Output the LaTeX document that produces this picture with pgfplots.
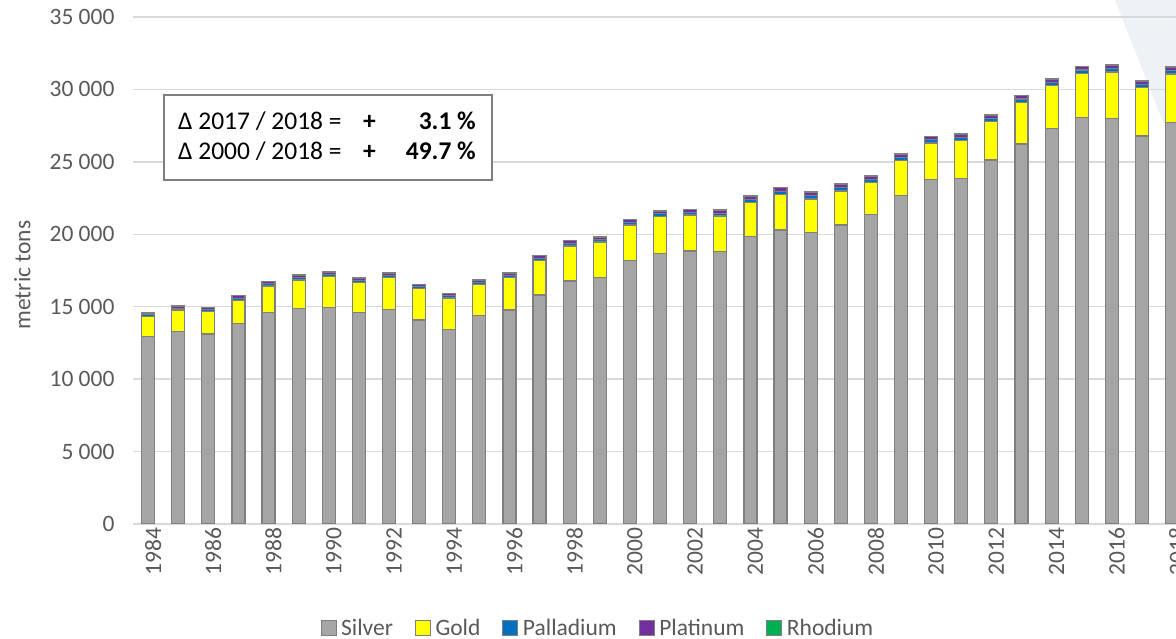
\documentclass[border=0pt]{standalone}
\usepackage{pgfplots}
\pgfplotsset{compat=1.18}
\usepackage{pgfplotstable}
\usepackage{fontspec}
\setmainfont{Carlito}
\definecolor{silverc}{HTML}{A5A5A5}
\definecolor{goldc}{HTML}{FFFF00}
\definecolor{pdc}{HTML}{0070C0}
\definecolor{ptc}{HTML}{7030A0}
\definecolor{rhc}{HTML}{00B050}
\definecolor{edgec}{HTML}{7F7F7F}
\definecolor{gridc}{HTML}{D9D9D9}
\definecolor{txtc}{HTML}{595959}
\definecolor{bgc}{HTML}{EDF2F7}

\pgfplotstableread{
year silver gold pd pt rh
1984 12930 1380 130 124 22
1985 13275 1497 130 125 22
1986 13116 1539 143 137 24
1987 13854 1560 175 168 30
1988 14586 1843 153 146 26
1989 14890 1953 162 155 28
1990 14959 2112 162 155 28
1991 14586 2071 152 146 26
1992 14821 2209 149 143 25
1993 14082 2161 143 137 24
1994 13440 2161 152 146 26
1995 14406 2113 152 146 26
1996 14772 2258 149 143 25
1997 15808 2368 175 167 30
1998 16774 2416 185 177 32
1999 17030 2436 172 165 29
2000 18176 2464 185 177 31
2001 18686 2527 195 186 33
2002 18845 2485 185 177 32
2003 18797 2464 195 186 33
2004 19832 2375 204 196 35
2005 20295 2437 240 230 41
2006 20108 2327 237 227 40
2007 20640 2347 227 217 39
2008 21351 2237 214 205 37
2009 22663 2444 204 195 35
2010 23795 2505 218 208 37
2011 23864 2623 214 205 36
2012 25127 2671 215 206 36
2013 26231 2879 227 217 39
2014 27315 2968 204 196 35
2015 28047 3065 227 217 39
2016 27978 3224 227 217 39
2017 26784 3334 217 208 37
2018 27729 3335 237 227 40
}\datatable

\newcommand{\chartfont}{\fontsize{23.5}{28}\selectfont}

\begin{document}
\begin{tikzpicture}[x=1pt,y=1pt]
\fill[bgc] (1115,639) -- (1176,639) -- (1176,484) -- cycle;
\begin{axis}[
  at={(133pt,115pt)}, anchor=south west,
  scale only axis, width=1043pt, height=507pt,
  xmin=1983.5, xmax=2018.13, ymin=0, ymax=35000,
  scaled y ticks=false, scaled x ticks=false,
  ybar stacked, bar width=13pt,
  axis line style={draw=none},
  tick style={draw=none},
  ymajorgrids, grid style={gridc, line width=1.5pt},
  ytick={0,5000,10000,15000,20000,25000,30000,35000},
  yticklabels={0,5 000,10 000,15 000,20 000,25 000,30 000,35 000},
  xtick={1984,1986,1988,1990,1992,1994,1996,1998,2000,2002,2004,2006,2008,2010,2012,2014,2016,2018},
  xticklabels={1984,1986,1988,1990,1992,1994,1996,1998,2000,2002,2004,2006,2008,2010,2012,2014,2016,2018},
  tick label style={font=\chartfont, text=txtc},
  x tick label style={rotate=90, anchor=east, yshift=-5pt},
  y tick label style={anchor=east, xshift=-15pt},
  ylabel={metric tons},
  ylabel style={at={(axis description cs:-0.0949,0.491)}, anchor=south, font=\chartfont, text=txtc},
  legend style={at={(axis description cs:0.4458,-0.205)}, anchor=center, draw=none, fill=none,
    font=\chartfont, text=txtc, legend columns=-1,
    /tikz/every even column/.append style={column sep=20pt}},
  legend image code/.code={\draw[#1,draw=edgec,line width=1pt] (0pt,-7.5pt) rectangle (15pt,7.5pt); \path[draw=none,fill=none] (0pt,0pt) -- (18pt,0pt);},
]
\addplot[fill=silverc, draw=edgec, line width=1.2pt] table[x=year,y=silver]{\datatable};
\addplot[fill=goldc, draw=edgec, line width=1.2pt] table[x=year,y=gold]{\datatable};
\addplot[fill=pdc, draw=edgec, line width=1.2pt] table[x=year,y=pd]{\datatable};
\addplot[fill=ptc, draw=edgec, line width=1.2pt] table[x=year,y=pt]{\datatable};
\addplot[fill=rhc, draw=edgec, line width=1.2pt] table[x=year,y=rh]{\datatable};
\legend{Silver,Gold,Palladium,Platinum,Rhodium}
\end{axis}
\draw[edgec, line width=1.5pt, fill=white] (164,459) rectangle (492,544);
\begin{scope}[every node/.style={inner sep=0pt, font=\fontsize{25.5}{30}\selectfont}]
\node[anchor=base west] at (178,509) {Δ 2017 / 2018 =};
\node[anchor=base west] at (363,509) {\textbf{+}};
\node[anchor=base east] at (476,509) {\textbf{3.1 \%}};
\node[anchor=base west] at (178,479) {Δ 2000 / 2018 =};
\node[anchor=base west] at (363,479) {\textbf{+}};
\node[anchor=base east] at (476,479) {\textbf{49.7 \%}};
\end{scope}
\pgfresetboundingbox
\useasboundingbox (0,0) rectangle (1176,639);
\end{tikzpicture}
\end{document}
